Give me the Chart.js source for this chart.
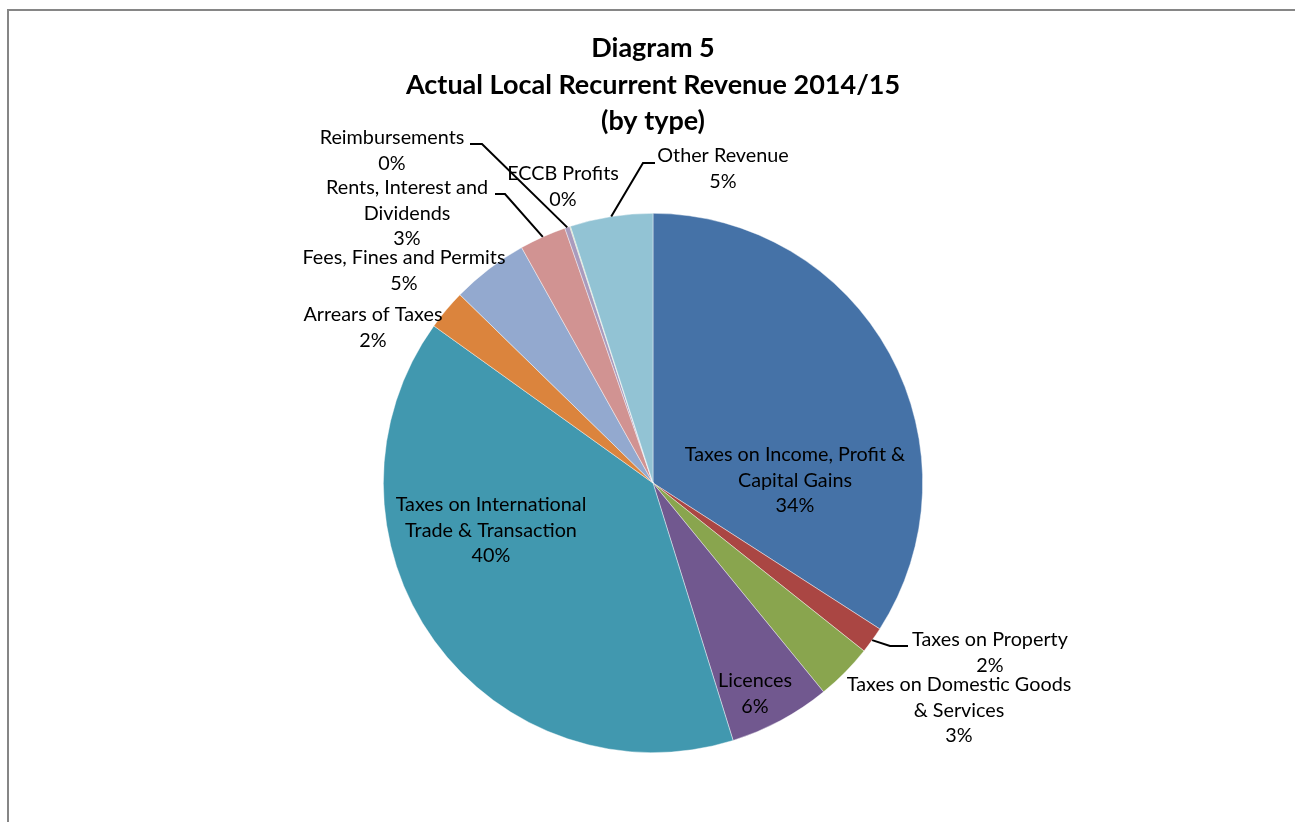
<!DOCTYPE html>
<html>
<head>
<meta charset="utf-8">
<script src="https://cdn.jsdelivr.net/npm/chart.js@4/dist/chart.umd.min.js"></script>
<style>
  html, body { margin: 0; padding: 0; background: #fff; }
  #wrap { position: relative; width: 1295px; height: 822px; overflow: hidden; }
  #frame { position: absolute; left: 7px; top: 9px; width: 1300px; height: 830px;
           border-left: 2px solid #868686; border-top: 2px solid #868686; box-sizing: border-box; }
  canvas { position: absolute; left: 0; top: 0; }
</style>
</head>
<body>
<div id="wrap">
  <div id="frame"></div>
  <canvas id="c" width="1295" height="822"></canvas>
</div>
<script>
// ---- data ----
const categories = [
  "Taxes on Income, Profit & Capital Gains",
  "Taxes on Property",
  "Taxes on Domestic Goods & Services",
  "Licences",
  "Taxes on International Trade & Transaction",
  "Arrears of Taxes",
  "Fees, Fines and Permits",
  "Rents, Interest and Dividends",
  "Reimbursements",
  "ECCB Profits",
  "Other Revenue"
];
const values = [34.1, 1.6, 3.4, 6.1, 39.7, 2.4, 4.6, 2.8, 0.3, 0.05, 4.95];
const sliceColors = ["#4572A7", "#AA4643", "#89A54E", "#71588F", "#4198AF", "#DB843D",
                     "#93A9CF", "#D19392", "#A99BBD", "#B9CD96", "#92C3D4"];
const titleLines = ["Diagram 5", "Actual Local Recurrent Revenue 2014/15", "(by type)"];
// label text lines (category name wrapped as in the original)
const labelLines = [
  ["Taxes on Income, Profit &", "Capital Gains"],
  ["Taxes on Property"],
  ["Taxes on Domestic Goods", "& Services"],
  ["Licences"],
  ["Taxes on International", "Trade & Transaction"],
  ["Arrears of Taxes"],
  ["Fees, Fines and Permits"],
  ["Rents, Interest and", "Dividends"],
  ["Reimbursements"],
  ["ECCB Profits"],
  ["Other Revenue"]
];

// ---- label layout (offsets from pie centre, style only) ----
const labelPos = [
  {dx: 142, dy: -28}, {dx: 337, dy: 157}, {dx: 306, dy: 202}, {dx: 102, dy: 198},
  {dx: -162, dy: 22}, {dx: -280, dy: -168}, {dx: -249, dy: -225}, {dx: -246, dy: -295},
  {dx: -261, dy: -345}, {dx: -90, dy: -309}, {dx: 70, dy: -327}
];
const leaders = {
  1: [[237, 163], [255, 163]],
  7: [[-148, -289], [-158, -289]],
  8: [[-171, -339], [-183, -339]],
  10: [[-10, -320], [2, -320]]
};

const FONT = "Lato, 'Open Sans', sans-serif";

const labelPlugin = {
  id: 'pieLabels',
  afterDatasetsDraw(chart) {
    const ctx = chart.ctx;
    const meta = chart.getDatasetMeta(0);
    const data = chart.data.datasets[0].data;
    const total = data.reduce((a, b) => a + b, 0);
    const arc0 = meta.data[0];
    const cx = arc0.x, cy = arc0.y;
    ctx.save();
    // leader lines
    ctx.strokeStyle = '#000';
    ctx.lineWidth = 2;
    Object.keys(leaders).forEach(k => {
      const i = +k;
      const a = meta.data[i];
      const mid = (a.startAngle + a.endAngle) / 2;
      const r = a.outerRadius;
      ctx.beginPath();
      ctx.moveTo(cx + Math.cos(mid) * r, cy + Math.sin(mid) * r);
      leaders[k].forEach(p => ctx.lineTo(cx + p[0], cy + p[1]));
      ctx.stroke();
    });
    // texts
    ctx.fillStyle = '#000';
    ctx.font = "19.8px " + FONT;
    ctx.textAlign = 'center';
    ctx.textBaseline = 'middle';
    const lh = 25.5;
    data.forEach((v, i) => {
      const lines = labelLines[i].concat([Math.round(v / total * 100) + '%']);
      const p = labelPos[i];
      lines.forEach((t, j) => ctx.fillText(t, cx + p.dx, cy + p.dy + j * lh));
    });
    // title
    ctx.font = "bold 27px " + FONT;
    const ty = [48, 85, 121];
    titleLines.forEach((t, j) => ctx.fillText(t, 653, ty[j]));
    ctx.restore();
  }
};

new Chart(document.getElementById('c'), {
  type: 'pie',
  data: {
    labels: categories,
    datasets: [{
      data: values,
      backgroundColor: sliceColors,
      borderColor: 'rgba(255,255,255,0.6)',
      borderWidth: 0.7
    }]
  },
  options: {
    responsive: false,
    animation: false,
    layout: { padding: { top: 213, bottom: 69, left: 383, right: 372 } },
    plugins: { legend: { display: false }, tooltip: { enabled: false }, title: { display: false } }
  },
  plugins: [labelPlugin]
});
</script>
</body>
</html>
